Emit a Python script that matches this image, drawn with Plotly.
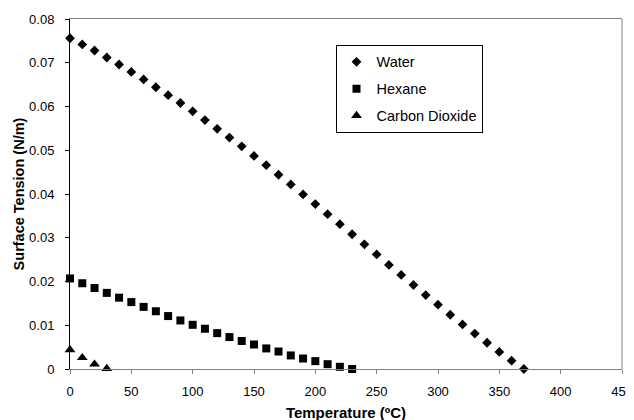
import plotly.graph_objects as go

temp_water = [0, 10, 20, 30, 40, 50, 60, 70, 80, 90, 100, 110, 120, 130, 140, 150, 160, 170, 180,
              190, 200, 210, 220, 230, 240, 250, 260, 270, 280, 290, 300, 310, 320, 330, 340, 350, 360, 370]
water = [0.0756, 0.0742, 0.0728, 0.0712, 0.0696, 0.0679, 0.0662, 0.0644, 0.0626, 0.0608, 0.0589,
         0.0569, 0.0549, 0.0529, 0.0509, 0.0487, 0.0466, 0.0444, 0.0422, 0.0399, 0.0377, 0.0354,
         0.0331, 0.0308, 0.0285, 0.0262, 0.0238, 0.0215, 0.0192, 0.0169, 0.0147, 0.0124, 0.0102,
         0.0081, 0.0060, 0.0039, 0.0019, 0.0000]

temp_hexane = [0, 10, 20, 30, 40, 50, 60, 70, 80, 90, 100, 110, 120, 130, 140, 150, 160, 170, 180,
               190, 200, 210, 220, 230]
hexane = [0.0207, 0.0196, 0.0185, 0.0174, 0.0163, 0.0153, 0.0142, 0.0132, 0.0121, 0.0111, 0.0101,
          0.0092, 0.0082, 0.0073, 0.0064, 0.0056, 0.0047, 0.0040, 0.0031, 0.0024, 0.0018, 0.0011,
          0.0005, 0.0000]

temp_co2 = [0, 10, 20, 30]
co2 = [0.0044, 0.0026, 0.0011, 0.0001]

x_ticks = [0, 50, 100, 150, 200, 250, 300, 350, 400, 450]
y_ticks = [0, 0.01, 0.02, 0.03, 0.04, 0.05, 0.06, 0.07, 0.08]
y_tick_labels = ["0", "0.01", "0.02", "0.03", "0.04", "0.05", "0.06", "0.07", "0.08"]

fig = go.Figure()
fig.add_trace(go.Scatter(x=temp_water, y=water, mode="markers", name="Water", legendgroup="a",
                         marker=dict(symbol="diamond", size=7.5, color="black")))
fig.add_trace(go.Scatter(x=temp_hexane, y=hexane, mode="markers", name="Hexane", legendgroup="b",
                         marker=dict(symbol="square", size=8, color="black")))
fig.add_trace(go.Scatter(x=temp_co2, y=co2, mode="markers", name="Carbon Dioxide", legendgroup="c",
                         marker=dict(symbol="triangle-up", size=9.5, color="black")))

font = "Liberation Sans, Arial, sans-serif"
fig.update_layout(
    width=634, height=420,
    margin=dict(l=62, r=20, t=11, b=59),
    paper_bgcolor="white", plot_bgcolor="white",
    font=dict(family=font, size=13, color="black"),
    showlegend=True,
    legend=dict(x=0.481, y=0.926, xanchor="left", yanchor="top",
                bordercolor="black", borderwidth=1, bgcolor="white",
                font=dict(size=14.5), tracegroupgap=5, traceorder="grouped",
                itemwidth=30),
    xaxis=dict(range=[0, 450], tickvals=x_ticks, showgrid=False, zeroline=False,
               showline=True, linecolor="#808080", linewidth=1, mirror=True,
               ticks="outside", ticklen=4, tickcolor="#808080", ticklabelstandoff=6,
               automargin=False,
               title=dict(text="<b>Temperature (ºC)</b>", font=dict(size=15), standoff=9)),
    yaxis=dict(range=[0, 0.08], tickvals=y_ticks, ticktext=y_tick_labels, showgrid=False,
               zeroline=False, showline=True, linecolor="black", linewidth=1,
               ticks="outside", ticklen=4, tickcolor="black", ticklabelstandoff=8,
               automargin=False,
               title=dict(text="<b>Surface Tension (N/m)</b>", font=dict(size=14.5), standoff=1)),
    shapes=[dict(type="line", xref="paper", yref="paper", x0=1, x1=1, y0=0, y1=1,
                 line=dict(color="#808080", width=1))],
)
fig.update_traces(cliponaxis=False)

fig.write_html("out.html")
